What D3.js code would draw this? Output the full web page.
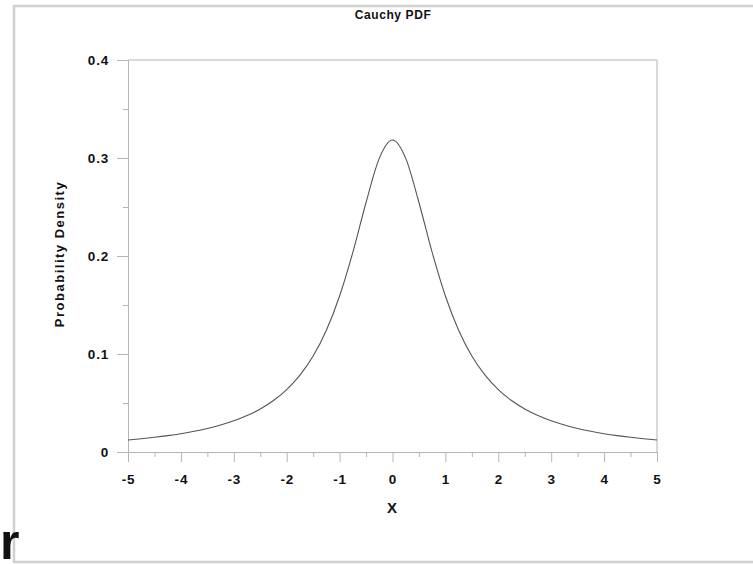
<!doctype html>
<html lang="en">
<head>
    <meta charset="UTF-8">
    <title>Cauchy PDF</title>
    <script src="https://d3js.org/d3.v7.min.js"></script>
    <style>
        body { margin: 0; background: #fff; }
        svg text { font-family: "Liberation Sans", Arial, sans-serif; fill: #111; }
    </style>
</head>
<body>
<div id="chart"></div>
<script>
    // values
    var xValues = [-5, -4.75, -4.5, -4.25, -4, -3.75, -3.5, -3.25, -3, -2.75, -2.5, -2.25, -2, -1.75, -1.5, -1.25, -1, -0.75, -0.5, -0.25,
        0, 0.25, 0.5, 0.75, 1, 1.25, 1.5, 1.75, 2, 2.25, 2.5, 2.75, 3, 3.25, 3.5, 3.75, 4, 4.25, 4.5, 4.75, 5];
    var density = [0.0122, 0.0135, 0.0150, 0.0167, 0.0187, 0.0211, 0.0240, 0.0275, 0.0318, 0.0372, 0.0439, 0.0525, 0.0637, 0.0784, 0.0979, 0.1242, 0.1592, 0.2037, 0.2546, 0.2996,
        0.3183, 0.2996, 0.2546, 0.2037, 0.1592, 0.1242, 0.0979, 0.0784, 0.0637, 0.0525, 0.0439, 0.0372, 0.0318, 0.0275, 0.0240, 0.0211, 0.0187, 0.0167, 0.0150, 0.0135, 0.0122];
    var xTicks = [-5, -4, -3, -2, -1, 0, 1, 2, 3, 4, 5];
    var xTickLabels = ["-5", "-4", "-3", "-2", "-1", "0", "1", "2", "3", "4", "5"];
    var xMinor = [-4.5, -3.5, -2.5, -1.5, -0.5, 0.5, 1.5, 2.5, 3.5, 4.5];
    var yTicks = [0, 0.1, 0.2, 0.3, 0.4];
    var yMinor = [0.05, 0.15, 0.25, 0.35];
    var yTickLabels = ["0", "0.1", "0.2", "0.3", "0.4"];

    var W = 753, H = 564;
    var svg = d3.select("#chart").append("svg")
        .attr("width", W).attr("height", H);

    // outer light frame
    svg.append("rect")
        .attr("x", 14).attr("y", 6)
        .attr("width", W + 10).attr("height", 556)
        .attr("fill", "none").attr("stroke", "#d0d0d0").attr("stroke-width", 2.5);

    var x = d3.scaleLinear().domain([-5, 5]).range([128, 657]);
    var y = d3.scaleLinear().domain([0, 0.4]).range([452, 60]);

    var axisColor = "#b4b4b4";

    // plot box top and right
    svg.append("line").attr("x1", 128).attr("x2", 657).attr("y1", 60).attr("y2", 60)
        .attr("stroke", axisColor);
    svg.append("line").attr("x1", 657).attr("x2", 657).attr("y1", 60).attr("y2", 452)
        .attr("stroke", axisColor);

    // x axis
    var gx = svg.append("g").attr("transform", "translate(0,452)")
        .call(d3.axisBottom(x).tickValues(xTicks).tickSize(10).tickPadding(12)
            .tickFormat(function (d, i) { return xTickLabels[i]; }));
    var gxm = svg.append("g").attr("transform", "translate(0,452)")
        .call(d3.axisBottom(x).tickValues(xMinor).tickSize(5).tickFormat(""));

    // y axis
    var gy = svg.append("g").attr("transform", "translate(128,0)")
        .call(d3.axisLeft(y).tickValues(yTicks).tickSize(11).tickPadding(8)
            .tickFormat(function (d, i) { return yTickLabels[i]; }));
    var gym = svg.append("g").attr("transform", "translate(128,0)")
        .call(d3.axisLeft(y).tickValues(yMinor).tickSize(5).tickFormat(""));

    [gx, gxm, gy, gym].forEach(function (g) {
        g.selectAll(".domain").attr("stroke", axisColor);
        g.selectAll(".tick line").attr("stroke", axisColor);
    });
    [gx, gy].forEach(function (g) {
        g.selectAll(".tick text")
            .attr("fill", "#111")
            .style("font-size", "13.5px")
            .style("font-weight", "bold")
            .style("letter-spacing", "0.8px")
            .style("font-family", "'Liberation Sans', Arial, sans-serif");
    });

    // the curve
    var line = d3.line()
        .x(function (d, i) { return x(xValues[i]); })
        .y(function (d) { return y(d); })
        .curve(d3.curveMonotoneX);
    svg.append("path")
        .datum(density)
        .attr("fill", "none")
        .attr("stroke", "#555")
        .attr("stroke-width", 1.1)
        .attr("d", line);

    // title
    svg.append("text")
        .attr("x", 393).attr("y", 19)
        .attr("text-anchor", "middle")
        .style("font-size", "12px")
        .style("font-weight", "bold")
        .style("letter-spacing", "0.6px")
        .text("Cauchy PDF");

    // x label
    svg.append("text")
        .attr("x", 392).attr("y", 513)
        .attr("text-anchor", "middle")
        .style("font-size", "15px")
        .style("font-weight", "bold")
        .text("X");

    // y label
    svg.append("text")
        .attr("transform", "translate(64,254) rotate(-90)")
        .attr("text-anchor", "middle")
        .style("font-size", "13px")
        .style("font-weight", "bold")
        .style("letter-spacing", "1.5px")
        .text("Probability Density");

    // stray glyph at bottom-left corner
    svg.append("text")
        .attr("x", 0).attr("y", 559)
        .style("font-size", "50px")
        .style("font-weight", "bold")
        .text("r");
</script>
</body>
</html>
